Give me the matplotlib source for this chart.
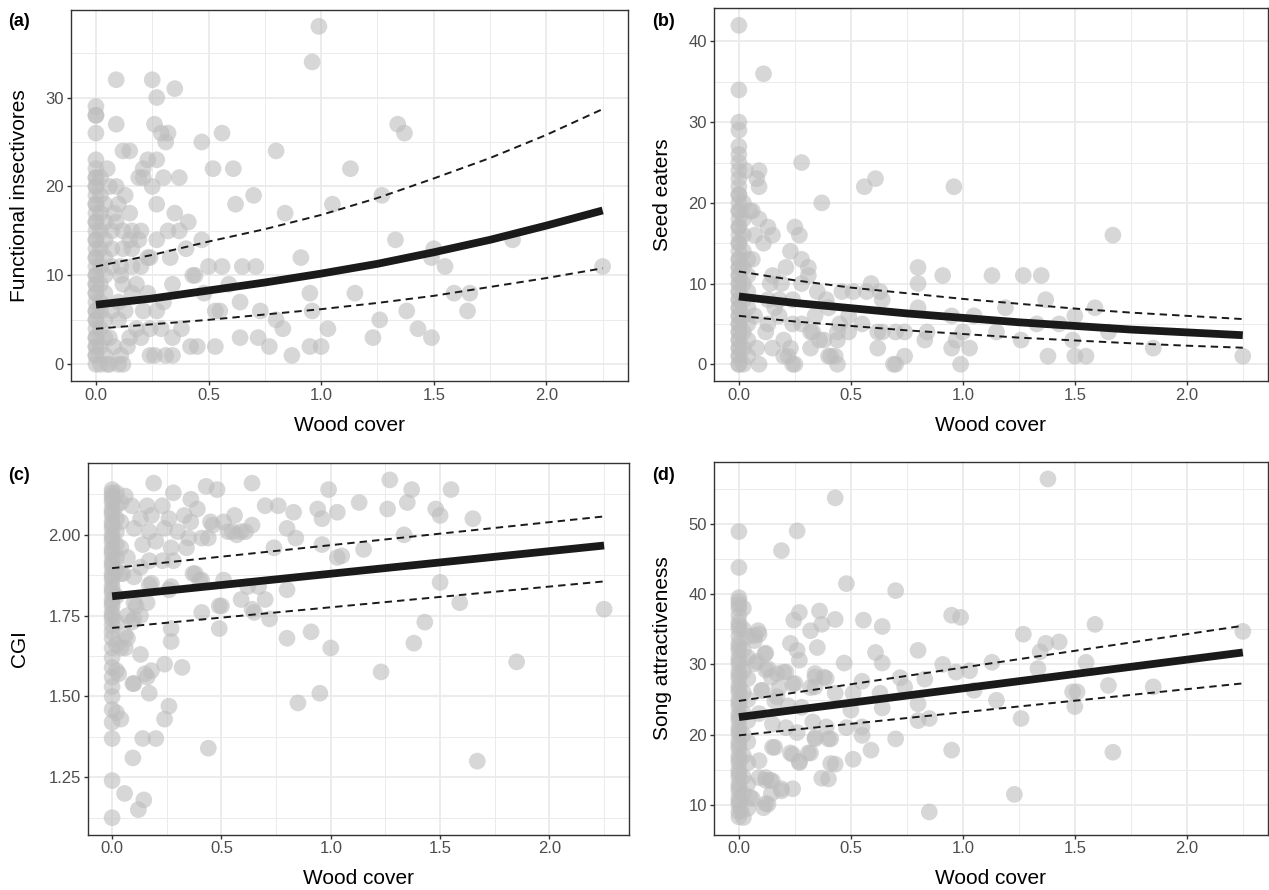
import matplotlib
matplotlib.use('Agg')
import matplotlib.pyplot as plt
import numpy as np

plt.rcParams['font.family'] = ['Liberation Sans', 'DejaVu Sans']

# ---- data: (wood cover, response) ----

# (a) functional insectivores
insect_pts = [
    (0, 0), (0, 1), (0, 2), (0, 3), (0, 4), (0, 5), (0, 6), (0, 7), (0, 8), (0, 9), (0, 10),
    (0, 11), (0, 12), (0, 13), (0, 14), (0, 15), (0, 16), (0, 17), (0, 18), (0, 19), (0, 20),
    (0, 21), (0, 22), (0, 23), (0, 26), (0, 28), (0, 29),
    (0, 1), (0, 2), (0, 3), (0, 5), (0, 6), (0, 8), (0, 9), (0, 10), (0, 12), (0, 14), (0, 16),
    (0, 18), (0, 20), (0, 21), (0, 28),
    (0.02, 0), (0.02, 2), (0.02, 4), (0.02, 6), (0.02, 7), (0.02, 9), (0.02, 11), (0.02, 13),
    (0.02, 15), (0.02, 17), (0.02, 19), (0.02, 21),
    (0.04, 1), (0.04, 3), (0.04, 5), (0.04, 8), (0.04, 10), (0.04, 12), (0.04, 14), (0.04, 16),
    (0.04, 18), (0.05, 22), (0.05, 0),
    (0.06, 0), (0.06, 3), (0.07, 6), (0.07, 11), (0.07, 13), (0.07, 15), (0.08, 2), (0.09, 16),
    (0.09, 20), (0.09, 27), (0.09, 32), (0.10, 0), (0.10, 7), (0.11, 1), (0.11, 11), (0.12, 0),
    (0.12, 9), (0.12, 13), (0.12, 15), (0.12, 24), (0.10, 5), (0.13, 6), (0.14, 2), (0.18, 9),
    (0.10, 18), (0.13, 19), (0.08, 17), (0.06, 20), (0.11, 10),
    (0.15, 3), (0.15, 14), (0.15, 17), (0.15, 24), (0.16, 8), (0.16, 11), (0.16, 13), (0.16, 15),
    (0.18, 4), (0.19, 14), (0.19, 21), (0.20, 3), (0.20, 11), (0.20, 15), (0.21, 6), (0.21, 21),
    (0.21, 22), (0.23, 8), (0.23, 12), (0.23, 23), (0.24, 1), (0.24, 4), (0.24, 12), (0.25, 20),
    (0.25, 32), (0.26, 1), (0.26, 27), (0.27, 6), (0.27, 14), (0.27, 18), (0.27, 23), (0.27, 30),
    (0.29, 4), (0.29, 26), (0.30, 7), (0.30, 21), (0.31, 1), (0.31, 25), (0.32, 15), (0.32, 26),
    (0.33, 12), (0.34, 1), (0.34, 3), (0.34, 9), (0.35, 17), (0.35, 31), (0.37, 15), (0.37, 21),
    (0.38, 4), (0.40, 13), (0.41, 16), (0.42, 2), (0.43, 10), (0.44, 10), (0.45, 2), (0.47, 14),
    (0.47, 25), (0.48, 8), (0.50, 11), (0.52, 22), (0.53, 2), (0.53, 6), (0.55, 6), (0.56, 11),
    (0.56, 26), (0.59, 9), (0.61, 22), (0.62, 18), (0.64, 3), (0.64, 7), (0.65, 11), (0.70, 19),
    (0.71, 11), (0.72, 3), (0.73, 6), (0.77, 2), (0.80, 5), (0.80, 24), (0.83, 4), (0.84, 17),
    (0.87, 1), (0.91, 12), (0.95, 2), (0.95, 8), (0.96, 6), (0.96, 34), (0.99, 38), (1.0, 2),
    (1.03, 4), (1.05, 18), (1.13, 22), (1.15, 8), (1.23, 3), (1.26, 5), (1.27, 19), (1.33, 14),
    (1.34, 27), (1.37, 26), (1.38, 6), (1.43, 4), (1.49, 3), (1.49, 12), (1.50, 13), (1.55, 11),
    (1.59, 8), (1.65, 6), (1.66, 8), (1.85, 14), (2.25, 11),
]

# (b) seed eaters
seed_pts = [
    (0, 0), (0, 1), (0, 2), (0, 3), (0, 4), (0, 5), (0, 6), (0, 7), (0, 8), (0, 9), (0, 10),
    (0, 11), (0, 12), (0, 13), (0, 14), (0, 15), (0, 16), (0, 17), (0, 18), (0, 19), (0, 20),
    (0, 21), (0, 22), (0, 23), (0, 24), (0, 25), (0, 26), (0, 27), (0, 29), (0, 30), (0, 34),
    (0, 42),
    (0, 0), (0, 1), (0, 2), (0, 3), (0, 4), (0, 5), (0, 6), (0, 7), (0, 8), (0, 9), (0, 10),
    (0, 11), (0, 12), (0, 13), (0, 15), (0, 17), (0, 19), (0, 21),
    (0.02, 0), (0.02, 2), (0.02, 4), (0.02, 6), (0.02, 8), (0.02, 10), (0.02, 12), (0.02, 14),
    (0.02, 16), (0.02, 18), (0.02, 20),
    (0.04, 1), (0.04, 3), (0.04, 5), (0.04, 7), (0.04, 9), (0.04, 11), (0.04, 13), (0.03, 24),
    (0.05, 19), (0.06, 13), (0.06, 19), (0.07, 6), (0.07, 16), (0.08, 2), (0.08, 23), (0.09, 0),
    (0.09, 18), (0.09, 22), (0.09, 24), (0.11, 15), (0.11, 36), (0.12, 4), (0.13, 5), (0.13, 8),
    (0.13, 17), (0.14, 10), (0.15, 2), (0.15, 11), (0.15, 16), (0.16, 7), (0.18, 6), (0.18, 8),
    (0.19, 10), (0.20, 1), (0.20, 3), (0.21, 12), (0.22, 1), (0.23, 2), (0.23, 14), (0.24, 0),
    (0.24, 5), (0.24, 8), (0.25, 0), (0.25, 17), (0.27, 16), (0.28, 5), (0.28, 10), (0.28, 13),
    (0.28, 25), (0.31, 11), (0.31, 12), (0.32, 2), (0.32, 4), (0.33, 4), (0.34, 6), (0.35, 9),
    (0.36, 3), (0.37, 20), (0.38, 3), (0.39, 8), (0.40, 1), (0.40, 7), (0.41, 1), (0.43, 1),
    (0.44, 0), (0.44, 3), (0.44, 4), (0.45, 5), (0.46, 9), (0.49, 4), (0.49, 6), (0.51, 9),
    (0.55, 5), (0.56, 22), (0.57, 9), (0.59, 10), (0.61, 23), (0.62, 2), (0.62, 4), (0.63, 9),
    (0.64, 8), (0.64, 4), (0.69, 0), (0.70, 0), (0.70, 4), (0.74, 1), (0.74, 4), (0.80, 7),
    (0.80, 10), (0.80, 12), (0.83, 3), (0.84, 4), (0.91, 11), (0.95, 2), (0.95, 6), (0.96, 22),
    (0.97, 3), (0.99, 0), (1.0, 4), (1.03, 2), (1.05, 6), (1.13, 11), (1.15, 4), (1.19, 7),
    (1.26, 3), (1.27, 11), (1.33, 5), (1.35, 11), (1.37, 8), (1.38, 1), (1.43, 5), (1.49, 3),
    (1.50, 1), (1.50, 6), (1.55, 1), (1.59, 7), (1.65, 4), (1.67, 16), (1.85, 2), (2.25, 1),
]

# (c) CGI
cgi_pts = [
    (0, 1.125), (0, 1.24), (0, 1.37), (0, 1.42), (0, 1.46), (0, 1.50), (0, 1.53), (0, 1.56),
    (0, 1.59), (0, 1.62), (0, 1.65), (0, 1.68), (0, 1.70), (0, 1.72), (0, 1.74), (0, 1.76),
    (0, 1.78), (0, 1.80), (0, 1.82), (0, 1.84), (0, 1.86), (0, 1.88), (0, 1.90), (0, 1.92),
    (0, 1.94), (0, 1.96), (0, 1.98), (0, 2.00), (0, 2.02), (0, 2.04), (0, 2.06), (0, 2.08),
    (0, 2.10), (0, 2.12), (0, 2.14),
    (0, 1.91), (0, 1.95), (0, 1.99), (0, 2.03), (0, 2.07), (0, 2.11), (0, 2.13), (0, 1.87),
    (0, 1.83), (0, 1.79), (0, 1.75),
    (0.02, 1.45), (0.02, 1.58), (0.02, 1.66), (0.02, 1.73), (0.02, 1.81), (0.02, 1.89),
    (0.02, 1.93), (0.02, 1.97), (0.02, 2.01), (0.02, 2.05), (0.02, 2.09), (0.02, 2.13),
    (0.04, 1.43), (0.04, 1.65), (0.04, 1.88), (0.04, 1.96), (0.04, 2.04), (0.04, 2.10),
    (0.03, 1.57), (0.05, 1.88), (0.057, 1.20), (0.06, 1.65), (0.06, 1.69), (0.06, 2.12),
    (0.07, 1.68), (0.07, 1.75), (0.07, 1.93), (0.09, 1.73), (0.09, 2.09), (0.095, 1.31),
    (0.095, 1.54), (0.10, 1.54), (0.10, 1.74), (0.10, 1.79), (0.10, 1.87), (0.10, 2.02),
    (0.11, 1.78), (0.12, 1.15), (0.13, 1.63), (0.13, 1.75), (0.13, 1.90), (0.13, 2.05),
    (0.14, 1.37), (0.14, 1.97), (0.145, 1.18), (0.15, 1.57), (0.16, 1.56), (0.16, 1.79),
    (0.16, 2.09), (0.17, 1.51), (0.17, 1.845), (0.17, 1.92), (0.17, 2.01), (0.18, 1.58),
    (0.18, 1.85), (0.18, 2.06), (0.19, 2.16), (0.20, 1.37), (0.20, 1.98), (0.23, 1.92),
    (0.23, 2.09), (0.24, 1.43), (0.24, 1.60), (0.24, 2.02), (0.26, 1.47), (0.26, 1.83),
    (0.26, 2.05), (0.27, 1.67), (0.27, 1.71), (0.27, 1.84), (0.27, 1.96), (0.28, 1.92),
    (0.28, 2.13), (0.30, 2.01), (0.32, 1.59), (0.33, 2.06), (0.34, 1.96), (0.35, 1.99),
    (0.36, 2.04), (0.36, 2.11), (0.37, 1.88), (0.38, 1.88), (0.39, 2.08), (0.40, 1.86),
    (0.41, 1.76), (0.41, 1.86), (0.41, 1.99), (0.43, 2.15), (0.44, 1.34), (0.44, 1.99),
    (0.45, 2.04), (0.46, 2.03), (0.48, 2.14), (0.49, 1.71), (0.49, 1.78), (0.50, 1.78),
    (0.51, 1.86), (0.51, 2.04), (0.53, 2.01), (0.55, 2.01), (0.56, 2.06), (0.57, 2.00),
    (0.59, 1.80), (0.59, 2.01), (0.61, 2.01), (0.62, 1.84), (0.64, 1.77), (0.64, 2.03),
    (0.64, 2.16), (0.65, 1.76), (0.67, 1.84), (0.70, 1.80), (0.70, 2.09), (0.72, 1.74),
    (0.74, 1.96), (0.76, 2.09), (0.80, 1.68), (0.80, 1.83), (0.80, 2.02), (0.83, 2.07),
    (0.84, 1.99), (0.85, 1.48), (0.91, 1.70), (0.94, 2.08), (0.95, 1.51), (0.96, 1.97),
    (0.96, 2.05), (0.99, 2.14), (1.0, 1.65), (1.03, 1.93), (1.03, 2.07), (1.05, 1.935),
    (1.13, 2.10), (1.15, 1.955), (1.23, 1.576), (1.26, 2.08), (1.27, 2.17), (1.335, 2.00),
    (1.35, 2.10), (1.37, 2.14), (1.38, 1.665), (1.43, 1.73), (1.48, 2.08), (1.50, 1.853),
    (1.50, 2.06), (1.55, 2.14), (1.59, 1.79), (1.65, 2.05), (1.67, 1.30), (1.85, 1.607),
    (2.25, 1.77),
]

# (d) song attractiveness
song_pts = [
    (0, 8.3), (0, 9), (0, 10), (0, 11), (0, 12), (0, 13), (0, 14), (0, 15), (0, 16), (0, 17),
    (0, 18), (0, 19), (0, 20), (0, 21), (0, 22), (0, 23), (0, 24), (0, 25), (0, 26), (0, 27),
    (0, 28), (0, 29), (0, 30), (0, 31), (0, 32), (0, 33), (0, 34), (0, 35), (0, 36), (0, 37),
    (0, 38), (0, 39), (0, 39.5), (0, 43.8), (0, 48.9),
    (0, 10.5), (0, 12.5), (0, 14.5), (0, 16.5), (0, 18.5), (0, 20.5), (0, 22.5), (0, 24.5),
    (0, 26.5), (0, 28.5), (0, 30.5), (0, 32.5), (0, 35.5), (0, 38.5),
    (0.02, 8.2), (0.02, 11.5), (0.02, 14), (0.02, 17), (0.02, 20), (0.02, 23), (0.02, 26),
    (0.02, 29), (0.02, 32), (0.02, 35), (0.02, 38),
    (0.04, 9.5), (0.04, 13), (0.04, 16), (0.04, 19), (0.04, 22), (0.04, 25), (0.04, 28),
    (0.04, 31), (0.04, 34),
    (0.01, 9.2), (0.05, 11.1), (0.06, 10.9), (0.07, 30.1), (0.07, 33.4), (0.07, 34.1),
    (0.08, 30.4), (0.086, 34.8), (0.09, 13.9), (0.09, 16.3), (0.09, 23.0), (0.09, 34.3),
    (0.10, 26.3), (0.105, 26.3), (0.11, 9.6), (0.12, 10.2), (0.12, 13.5), (0.12, 13.9),
    (0.12, 29.2), (0.12, 31.6), (0.116, 31.5), (0.13, 10.1), (0.13, 29.4), (0.14, 13.5),
    (0.145, 11.6), (0.145, 28.2), (0.15, 13.4), (0.15, 18.2), (0.15, 21.5), (0.16, 18.2),
    (0.16, 24.8), (0.17, 25.4), (0.17, 28.7), (0.18, 26.7), (0.19, 12.0), (0.19, 12.3),
    (0.19, 46.2), (0.20, 28.9), (0.21, 21.0), (0.21, 28.9), (0.22, 24.1), (0.23, 17.4),
    (0.23, 33.0), (0.24, 12.3), (0.24, 17.2), (0.24, 27.2), (0.245, 36.3), (0.25, 27.3),
    (0.26, 20.3), (0.26, 32.0), (0.26, 49.0), (0.27, 16.0), (0.27, 16.2), (0.27, 30.6),
    (0.27, 37.4), (0.28, 23.9), (0.31, 17.4), (0.32, 17.4), (0.32, 26.7), (0.32, 34.8),
    (0.33, 21.8), (0.34, 19.4), (0.34, 19.6), (0.34, 26.8), (0.34, 28.2), (0.34, 28.7),
    (0.35, 32.4), (0.36, 37.6), (0.37, 13.8), (0.37, 35.7), (0.38, 28.2), (0.39, 21.1),
    (0.39, 28.0), (0.40, 13.7), (0.40, 19.4), (0.41, 15.9), (0.41, 19.4), (0.43, 15.8),
    (0.43, 25.9), (0.43, 36.4), (0.43, 53.7), (0.47, 30.2), (0.48, 21.0), (0.48, 41.5),
    (0.50, 23.5), (0.51, 16.5), (0.51, 25.9), (0.55, 19.9), (0.55, 21.1), (0.55, 27.6),
    (0.556, 36.3), (0.59, 17.8), (0.61, 31.7), (0.63, 25.9), (0.64, 23.8), (0.64, 30.2),
    (0.64, 35.4), (0.70, 19.4), (0.70, 40.5), (0.72, 28.1), (0.74, 26.8), (0.80, 22.0),
    (0.80, 24.4), (0.80, 32.0), (0.83, 27.9), (0.85, 9.0), (0.85, 22.3), (0.91, 30.0),
    (0.95, 17.8), (0.95, 37.0), (0.97, 28.9), (0.99, 36.7), (1.03, 29.1), (1.05, 26.3),
    (1.13, 30.3), (1.15, 24.9), (1.23, 11.5), (1.26, 22.3), (1.27, 34.3), (1.335, 29.4),
    (1.345, 31.8), (1.37, 33.0), (1.38, 56.4), (1.43, 33.2), (1.49, 26.1), (1.50, 24.0),
    (1.51, 26.1), (1.55, 30.3), (1.59, 35.7), (1.65, 27.0), (1.67, 17.5), (1.85, 26.8),
    (2.25, 34.7),
]

# fitted curves (read at these wood cover values)
fit_x = [0, 0.25, 0.5, 0.75, 1.0, 1.25, 1.5, 1.75, 2.0, 2.25]
insect_fit = [6.7, 7.4, 8.3, 9.2, 10.2, 11.3, 12.6, 14.0, 15.6, 17.3]
insect_hi = [11.0, 12.3, 13.8, 15.2, 16.8, 18.7, 20.9, 23.2, 25.8, 28.7]
insect_lo = [4.0, 4.5, 5.0, 5.6, 6.2, 6.9, 7.7, 8.7, 9.7, 10.8]
seed_fit = [8.4, 7.6, 6.95, 6.3, 5.75, 5.2, 4.75, 4.3, 3.95, 3.6]
seed_hi = [11.5, 10.4, 9.5, 8.8, 8.1, 7.5, 6.9, 6.4, 6.0, 5.6]
seed_lo = [6.0, 5.3, 4.75, 4.2, 3.75, 3.3, 2.95, 2.6, 2.3, 2.05]

lin_x = [0, 2.25]
cgi_fit = [1.81, 1.967]
cgi_hi = [1.897, 2.057]
cgi_lo = [1.712, 1.856]
song_fit = [22.5, 31.7]
song_hi = [24.8, 35.5]
song_lo = [19.9, 27.3]


W, H = 1269, 890
fig = plt.figure(figsize=(W / 100, H / 100), dpi=100)


def add_panel(left, top, right, bottom):
    return fig.add_axes([left / W, 1 - bottom / H, (right - left) / W, (bottom - top) / H])


def draw_panel(ax, pts, fx, fmid, flo, fhi, yticks, ylabels, yminor, ylabel, ylab_x):
    pts = np.array(pts)
    ax.scatter(pts[:, 0], pts[:, 1], s=145, color='#BDBDBD', alpha=0.6,
               edgecolors='none', zorder=2)
    ax.plot(fx, fmid, color='#1a1a1a', lw=5.6, solid_capstyle='butt', zorder=3)
    ax.plot(fx, flo, color='#1a1a1a', lw=1.4, ls=(0, (3.8, 2.6)), zorder=3)
    ax.plot(fx, fhi, color='#1a1a1a', lw=1.4, ls=(0, (3.8, 2.6)), zorder=3)

    # ggplot style 5% expansion
    xr = 2.25 * 0.05
    ax.set_xlim(-xr, 2.25 + xr)
    ymin, ymax = pts[:, 1].min(), pts[:, 1].max()
    yr = (ymax - ymin) * 0.05
    ax.set_ylim(ymin - yr, ymax + yr)

    ax.set_xticks([0, 0.5, 1.0, 1.5, 2.0])
    ax.set_xticklabels(['0.0', '0.5', '1.0', '1.5', '2.0'])
    ax.set_xticks([0.25, 0.75, 1.25, 1.75, 2.25], minor=True)
    ax.set_yticks(yticks)
    ax.set_yticklabels(ylabels)
    ax.set_yticks(yminor, minor=True)
    ax.grid(which='major', color='#EBEBEB', lw=1.3)
    ax.grid(which='minor', color='#EBEBEB', lw=0.7)
    ax.set_axisbelow(True)
    ax.tick_params(which='major', length=2.75, width=1, color='#333333',
                   labelsize=12, labelcolor='#4D4D4D', pad=2)
    ax.tick_params(which='minor', length=0)
    for s in ax.spines.values():
        s.set_color('#333333')
        s.set_linewidth(1.0)

    ax.set_xlabel('Wood cover', fontsize=15)
    ax.xaxis.set_label_coords(0.5, -0.118)
    ax.xaxis.label.set_va('center')
    ax.set_ylabel(ylabel, fontsize=15)
    ax.yaxis.set_label_coords(ylab_x, 0.5)
    ax.yaxis.label.set_va('center')


ax_a = add_panel(70.6, 9.5, 628, 381.2)
draw_panel(ax_a, insect_pts, fit_x, insect_fit, insect_lo, insect_hi,
           [0, 10, 20, 30], ['0', '10', '20', '30'], [5, 15, 25, 35],
           'Functional insectivores', -0.091)

ax_b = add_panel(713.7, 8.4, 1268, 381.2)
draw_panel(ax_b, seed_pts, fit_x, seed_fit, seed_lo, seed_hi,
           [0, 10, 20, 30, 40], ['0', '10', '20', '30', '40'], [5, 15, 25, 35],
           'Seed eaters', -0.093)

ax_c = add_panel(87.5, 463, 628.7, 834.6)
draw_panel(ax_c, cgi_pts, lin_x, cgi_fit, cgi_lo, cgi_hi,
           [1.25, 1.5, 1.75, 2.0], ['1.25', '1.50', '1.75', '2.00'],
           [1.125, 1.375, 1.625, 1.875, 2.125], 'CGI', -0.125)

ax_d = add_panel(713.7, 462, 1268, 834.5)
draw_panel(ax_d, song_pts, lin_x, song_fit, song_lo, song_hi,
           [10, 20, 30, 40, 50], ['10', '20', '30', '40', '50'], [15, 25, 35, 45, 55],
           'Song attractiveness', -0.093)

for tag, x, y in [('(a)', 8, 21), ('(b)', 652, 21), ('(c)', 8, 476), ('(d)', 652, 476)]:
    fig.text(x / W, 1 - y / H, tag, fontsize=13, fontweight='bold', va='center', ha='left')

fig.savefig('out.png', dpi=100)
